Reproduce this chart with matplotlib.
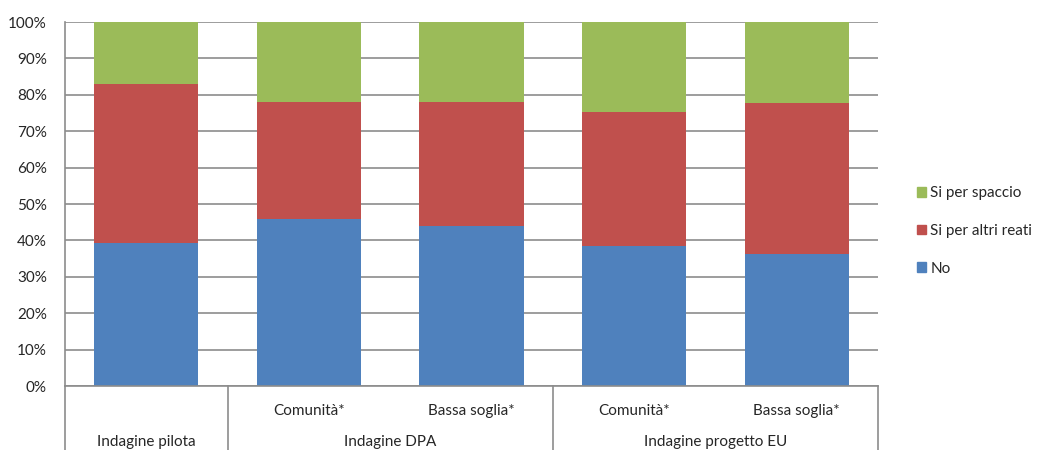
import numpy as np
import matplotlib
matplotlib.use("Agg")
from matplotlib import pyplot as plt
from matplotlib.patches import Patch

plt.rcParams['font.family'] = ['Lato', 'DejaVu Sans']

# data (percent of respondents)
bar_labels = ['', 'Comunità*', 'Bassa soglia*', 'Comunità*', 'Bassa soglia*']
groups = ['Indagine pilota', 'Indagine DPA', 'Indagine progetto EU']
group_members = [[0], [1, 2], [3, 4]]
no_vals = [39.4, 45.8, 44.0, 38.5, 36.3]
altri_vals = [43.6, 32.2, 34.0, 36.9, 41.4]
spaccio_vals = [17.0, 22.0, 22.0, 24.6, 22.3]

c_no = '#4F81BD'
c_altri = '#C0504D'
c_spaccio = '#9BBB59'
grid_c = '#8C8C8C'
txt_c = '#262626'
fs = 11

fig = plt.figure(figsize=(10.39, 4.5), dpi=100)
ax = fig.add_axes([65/1039, 64/450, (878-65)/1039, 364/450])

x = np.arange(len(no_vals))
w = 0.64
no = np.array(no_vals)
altri = np.array(altri_vals)
spaccio = np.array(spaccio_vals)
ax.bar(x, no, w, color=c_no, zorder=2)
ax.bar(x, altri, w, bottom=no, color=c_altri, zorder=2)
ax.bar(x, spaccio, w, bottom=no + altri, color=c_spaccio, zorder=2)

ax.set_xlim(-0.5, len(x) - 0.5)
ax.set_ylim(0, 100)
ax.set_yticks(np.arange(0, 101, 10))
ax.set_yticklabels([f'{v}%' for v in range(0, 101, 10)])
ax.yaxis.grid(True, color=grid_c, linewidth=1.2, zorder=0)
ax.tick_params(axis='y', length=0, pad=13, labelsize=fs, colors=txt_c)
ax.set_xticks([])
for s in ['top', 'right']:
    ax.spines[s].set_visible(False)
ax.spines['left'].set_color(grid_c)
ax.spines['bottom'].set_color(grid_c)
ax.spines['left'].set_linewidth(1.2)
ax.spines['bottom'].set_linewidth(1.2)

# multi-level category axis
tr = ax.get_xaxis_transform()
bottom = -64/364
for xv in [-0.5, 0.5, 2.5, 4.5]:
    ax.plot([xv, xv], [0, bottom], transform=tr, color=grid_c,
            linewidth=1.2, clip_on=False)
for xi, lab in zip(x, bar_labels):
    if lab:
        ax.text(xi, -25/364, lab, transform=tr, ha='center', va='center',
                fontsize=fs, color=txt_c)
for g, members in zip(groups, group_members):
    ax.text(np.mean(members), -56/364, g, transform=tr, ha='center',
            va='center', fontsize=fs, color=txt_c)

handles = [Patch(color=c_spaccio, label='Si per spaccio'),
           Patch(color=c_altri, label='Si per altri reati'),
           Patch(color=c_no, label='No')]
fig.legend(handles=handles, loc='center left', bbox_to_anchor=(903/1039, 1 - 231/450),
           frameon=False, fontsize=fs, handlelength=0.6, handleheight=0.6,
           handletextpad=0.3, labelspacing=1.55, labelcolor=txt_c)

fig.savefig('out.png', dpi=100)
